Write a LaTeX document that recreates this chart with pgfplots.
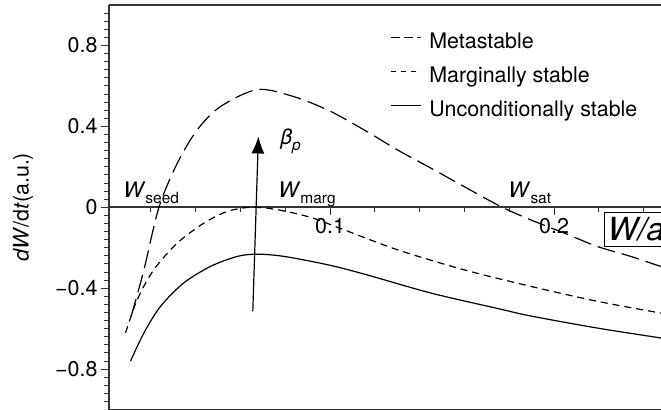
\documentclass[border=0pt]{standalone}
\usepackage{fontspec}
\setmainfont{TeX Gyre Heros}
\usepackage{pgfplots}
\pgfplotsset{compat=1.18}
\usetikzlibrary{arrows.meta}

\newcommand{\lbl}{\fontsize{21.5}{24}\selectfont}
\newcommand{\sub}[1]{\raisebox{-6bp}{\fontsize{15.5}{16}\selectfont #1}}

\begin{document}
\begin{tikzpicture}
\begin{axis}[
  scale only axis,
  width=579.5bp, height=404.5bp,
  xmin=0.0013, xmax=0.26, ymin=-1, ymax=1,
  axis x line=middle, axis y line=left,
  axis line style={-, line width=1.6bp, black!80},
  tick align=outside,
  major tick length=8bp, minor tick length=4.5bp,
  tick style={line width=0.9bp, black!80},
  xtick={0.1,0.2}, xticklabels={0.1,0.2},
  minor xtick={0.02,0.04,0.06,0.08,0.12,0.14,0.16,0.18,0.22,0.24},
  ytick={-0.8,-0.4,0,0.4,0.8},
  yticklabels={−0.8,−0.4,0,0.4,0.8},
  minor ytick={-0.96,-0.92,-0.88,-0.84,-0.76,-0.72,-0.68,-0.64,-0.6,-0.56,-0.52,-0.48,-0.44,
               -0.36,-0.32,-0.28,-0.24,-0.2,-0.16,-0.12,-0.08,-0.04,
               0.04,0.08,0.12,0.16,0.2,0.24,0.28,0.32,0.36,
               0.44,0.48,0.52,0.56,0.6,0.64,0.68,0.72,0.76,
               0.84,0.88,0.92,0.96},
  ticklabel style={font=\lbl},
  ylabel={\textit{dW}/d\textit{t}(a.u.)},
  ylabel style={font=\lbl, at={(rel axis cs:0,0.5)}, anchor=center, yshift=86bp},
  legend style={at={(axis cs:0.1268,0.858)}, anchor=north west, draw=none, fill=none,
    inner sep=0pt, outer sep=0pt, font=\lbl, row sep=15bp,
    nodes={inner sep=0pt, text height=15bp, text depth=4bp},
    /tikz/every odd column/.append style={column sep=8bp}},
  legend cell align=left,
  legend image code/.code={\draw[#1] (0bp,5.5bp) -- (30bp,5.5bp);},
]
\coordinate (O) at (rel axis cs:0,0);

% legend samples
\addlegendimage{black, line width=1.2bp, dash pattern=on 9bp off 4bp}
\addlegendentry{Metastable}
\addlegendimage{black, line width=1.2bp, dash pattern=on 5.5bp off 4.5bp}
\addlegendentry{Marginally stable}
\addlegendimage{black, line width=1.2bp}
\addlegendentry{Unconditionally stable}

% metastable growth curve
\addplot[black, line width=1.2bp, dash pattern=on 18bp off 7bp, smooth, forget plot] table {
0.0112 -0.539
0.0169 -0.309
0.0236  0.000
0.0318  0.218
0.0407  0.383
0.0511  0.498
0.0675  0.582
0.0838  0.547
0.0995  0.478
0.1151  0.383
0.1300  0.284
0.1449  0.194
0.1597  0.103
0.1761  0.004
0.1895 -0.062
0.2044 -0.127
0.2193 -0.194
0.2342 -0.243
0.2475 -0.292
0.2550 -0.312
};

% marginally stable curve
\addplot[black, line width=1.2bp, dash pattern=on 7bp off 5bp, smooth, forget plot] table {
0.0087 -0.621
0.0139 -0.457
0.0213 -0.309
0.0318 -0.177
0.0437 -0.078
0.0541 -0.021
0.0645  0.000
0.0764 -0.012
0.0913 -0.050
0.1047 -0.105
0.1300 -0.210
0.1597 -0.309
0.1895 -0.391
0.2193 -0.465
0.2475 -0.523
0.2550 -0.537
};

% unconditionally stable curve
\addplot[black, line width=1.2bp, smooth, forget plot] table {
0.0109 -0.761
0.0169 -0.621
0.0243 -0.490
0.0347 -0.374
0.0467 -0.292
0.0586 -0.243
0.0675 -0.232
0.0794 -0.243
0.0988 -0.284
0.1151 -0.330
0.1449 -0.424
0.1746 -0.500
0.1893 -0.537
0.2191 -0.597
0.2475 -0.646
0.2550 -0.658
};

% frame lines above and below
\draw[line width=1.6bp, black!80] (rel axis cs:0,1) -- (rel axis cs:1,1);
\draw[line width=1.6bp, black!80] (rel axis cs:0,0) -- (rel axis cs:1,0);

% annotations
\node[anchor=base west, font=\lbl, inner sep=0pt] at (axis cs:0.0076,0.047) {\textit{W}\sub{seed}};
\node[anchor=base west, font=\lbl, inner sep=0pt] at (axis cs:0.0768,0.047) {\textit{W}\sub{marg}};
\node[anchor=base west, font=\lbl, inner sep=0pt] at (axis cs:0.1795,0.047) {\textit{W}\sub{sat}};
\node[anchor=base west, font=\lbl, inner sep=0pt] at (axis cs:0.0777,0.309) {\textit{β}\sub{\textit{p}}};
\draw[-{Latex[length=17bp,width=13bp]}, line width=1.2bp, black] (axis cs:0.0655,-0.515) -- (axis cs:0.068,0.350);
\node[draw, line width=1.4bp, anchor=north west, inner xsep=3bp, inner ysep=5bp, font=\fontsize{32}{32}\selectfont, fill=white]
  at (axis cs:0.2223,-0.022) {\textit{W/a}};
\end{axis}
\pgfresetboundingbox
\path[use as bounding box] (O) ++(-109bp,-0.5bp) rectangle ++(661bp,410bp);
\end{tikzpicture}
\end{document}
